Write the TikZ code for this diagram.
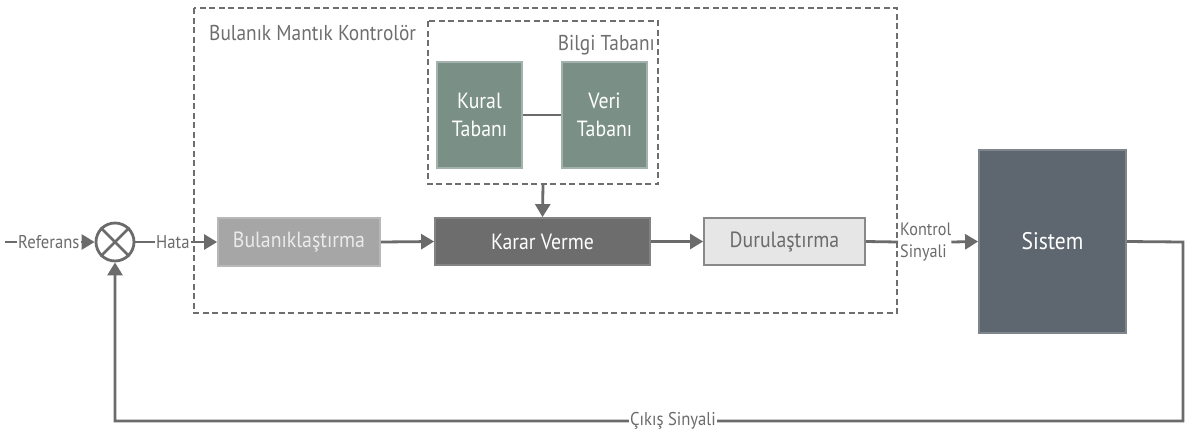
\documentclass[tikz,border=0pt]{standalone}
\usepackage{fontspec}
\setmainfont{PT Sans}[FakeStretch=0.9]
\usetikzlibrary{arrows.meta}
\definecolor{linegray}{HTML}{6B6B6B}
\definecolor{dashgray}{HTML}{6E6E6E}
\definecolor{sagefill}{HTML}{7A9087}
\definecolor{sageedge}{HTML}{A3B2AC}
\definecolor{fuzzfill}{HTML}{A6A6A6}
\definecolor{decfill}{HTML}{6D6D6D}
\definecolor{defuzzfill}{HTML}{E6E6E6}
\definecolor{sysfill}{HTML}{5E6670}
\tikzset{
  conn/.style={draw=linegray, line width=2.8pt},
  arr/.style={conn, -{Triangle[width=15pt,length=13pt]}},
  frame/.style={draw=dashgray, line width=2.7pt, dash pattern=on 6pt off 3.5pt},
  block/.style={rectangle, inner sep=0pt, line width=1.8pt, font=\fontsize{22}{24}\selectfont},
  sagebox/.style={block, fill=sagefill, draw=sageedge, text=white, minimum width=85pt, minimum height=106pt, align=center, font=\fontsize{22}{28}\selectfont},
  lbl/.style={text=linegray, inner sep=1pt, font=\fontsize{18.5}{20}\selectfont},
  title/.style={text=dashgray, inner sep=0pt, font=\fontsize{21.5}{23}\selectfont},
}
\begin{document}
\begin{tikzpicture}[x=1pt, y=-1pt]
\useasboundingbox (0,0) rectangle (1194,432);

% controller and knowledge-base frames
\draw[frame] (194,8) rectangle (897,313);
\node[title, anchor=west] (flc) at (209,33) {Bulanık Mantık Kontrolör};
\draw[frame] (428,21) rectangle (658,184);
\coordinate (kbbottom) at (543,184);
\node[title, anchor=east] (kb) at (655,45) {Bilgi Tabanı};

% knowledge base blocks
\node[sagebox] (kural) at (479.5,115) {Kural\\Tabanı};
\node[sagebox] (veri) at (604.5,115) {Veri\\Tabanı};
\draw[conn] (kural) -- (veri);

% processing chain
\node[block, fill=fuzzfill, draw=fuzzfill!80!white, text=white!92!black, minimum width=162pt, minimum height=48pt] (fuzz) at (299,242) {Bulanıklaştırma};
\node[block, fill=decfill, draw=decfill!85!white, text=white, minimum width=215pt, minimum height=47pt] (dec) at (542.5,241.5) {Karar Verme};
\node[block, fill=defuzzfill, draw=linegray!80!white, text=linegray, minimum width=161pt, minimum height=47pt] (defuzz) at (784.5,241.5) {Durulaştırma};
\node[block, fill=sysfill, draw=sysfill!80!white, text=white, minimum width=147pt, minimum height=183pt, font=\fontsize{24}{26}\selectfont] (sys) at (1052.5,241.5) {Sistem};

% summing junction
\node[circle, draw=linegray, line width=2.8pt, minimum size=38pt, inner sep=0pt] (sum) at (115,242) {};
\draw[conn] (sum.45) -- (sum.225);
\draw[conn] (sum.135) -- (sum.315);

% reference input
\coordinate (refstart) at (5,242);
\node[lbl, anchor=west] (ref) at (17,242) {Referans};
\draw[conn] (refstart) -- (ref.west);
\draw[arr] (ref.east) -- (sum.west);

% error signal
\node[lbl, anchor=west] (hata) at (155,242) {Hata};
\draw[conn] (sum.east) -- (hata.west);
\draw[arr] (hata.east) -- (fuzz.west);

\draw[arr] (fuzz.east) -- (dec.west);
\draw[arr] (kbbottom) -- (dec.north);
\draw[arr] (dec.east) -- (defuzz.west);

% control signal
\node[lbl, anchor=west, align=left, inner sep=0pt, font=\fontsize{18}{22}\selectfont] (ctrl) at (900,242) {Kontrol\\Sinyali};
\coordinate (ctrlin) at (898,242);
\draw[conn] (defuzz.east) -- (ctrlin);
\draw[arr] (ctrl.east) -- (sys.west);

% feedback path
\coordinate (fbA) at (1183,242);
\coordinate (fbB) at (1183,421);
\coordinate (fbC) at (115,421);
\draw[arr] (sys.east) -- (fbA) -- (fbB) -- (fbC) -- (sum.south);
\node[lbl, fill=white, inner sep=1pt] (out) at (673,421) {Çıkış Sinyali};
\end{tikzpicture}
\end{document}
